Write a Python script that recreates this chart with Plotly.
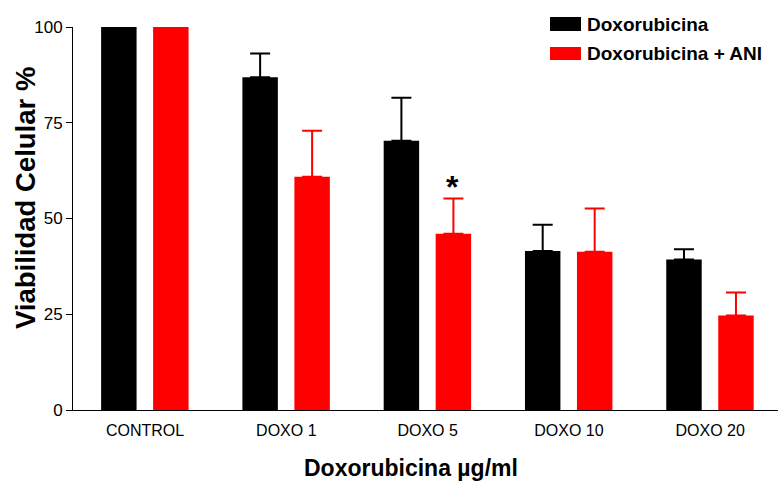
import plotly.graph_objects as go

categories = ["CONTROL", "DOXO 1", "DOXO 5", "DOXO 10", "DOXO 20"]
doxo_values = [100, 86.9, 70.3, 41.5, 39.3]
doxo_errors = [0, 6.2, 11.2, 6.9, 2.7]
doxo_ani_values = [100, 60.9, 46.0, 41.3, 24.7]
doxo_ani_errors = [0, 12.0, 9.2, 11.3, 6.0]
y_ticks = [0, 25, 50, 75, 100]
series_names = ["Doxorubicina", "Doxorubicina + ANI"]
series_colors = ["#000000", "#FF0000"]

fig = go.Figure()
fig.add_trace(go.Bar(
    x=categories, y=doxo_values, name=series_names[0],
    marker=dict(color=series_colors[0], line=dict(width=0)),
    width=0.251, offset=-0.311,
    error_y=dict(type="data", array=doxo_errors, arrayminus=[0]*5, symmetric=False,
                 color=series_colors[0], thickness=2, width=10),
    showlegend=False,
))
fig.add_trace(go.Bar(
    x=categories, y=doxo_ani_values, name=series_names[1],
    marker=dict(color=series_colors[1], line=dict(width=0)),
    width=0.251, offset=0.057,
    error_y=dict(type="data", array=doxo_ani_errors, arrayminus=[0]*5, symmetric=False,
                 color=series_colors[1], thickness=2, width=10),
    showlegend=False,
))

font_tick = "Liberation Sans, Arial, sans-serif"

fig.update_layout(
    width=778, height=484,
    margin=dict(l=73, r=0, t=27, b=74),
    paper_bgcolor="white", plot_bgcolor="white",
    barmode="overlay",
    xaxis=dict(
        range=[-0.51, 4.48], showline=True, linecolor="black", linewidth=1,
        ticks="", showgrid=False, zeroline=False,
        tickfont=dict(family=font_tick, size=16, color="black"),
        ticklabelstandoff=6,
    ),
    yaxis=dict(
        range=[0, 100], tickvals=y_ticks, showline=True, linecolor="black", linewidth=1,
        ticks="outside", ticklen=6, tickcolor="black", showgrid=False, zeroline=False,
        tickfont=dict(family=font_tick, size=17, color="black"),
    ),
    showlegend=False,
)

def px_to_paper_x(px):
    return (px - 73) / 705

def px_to_paper_y(py):
    return (410 - py) / 383

# legend drawn with shapes + annotations
legend_rows = [(17, 31), (47, 60)]
for (ytop, ybot), name, color in zip(legend_rows, series_names, series_colors):
    fig.add_shape(type="rect", xref="paper", yref="paper",
                  x0=px_to_paper_x(550), x1=px_to_paper_x(581),
                  y0=px_to_paper_y(ybot), y1=px_to_paper_y(ytop),
                  fillcolor=color, line=dict(width=0))
    fig.add_annotation(xref="paper", yref="paper",
                       x=px_to_paper_x(585), y=px_to_paper_y((ytop + ybot) / 2),
                       text="<b>" + name + "</b>", showarrow=False,
                       xanchor="left", yanchor="middle",
                       font=dict(family=font_tick, size=19, color="black"))

# axis titles
fig.add_annotation(xref="paper", yref="paper",
                   x=px_to_paper_x(411), y=px_to_paper_y(468),
                   text="<b>Doxorubicina µg/ml</b>", showarrow=False,
                   xanchor="center", yanchor="middle",
                   font=dict(family=font_tick, size=23, color="black"))
fig.add_annotation(xref="paper", yref="paper",
                   x=px_to_paper_x(25), y=px_to_paper_y(198),
                   text="<b>Viabilidad Celular %</b>", showarrow=False, textangle=-90,
                   xanchor="center", yanchor="middle",
                   font=dict(family=font_tick, size=27.5, color="black"))

# significance marker
fig.add_annotation(x="DOXO 5", y=doxo_ani_values[2] + doxo_ani_errors[2], xshift=25, yshift=12,
                   text="<b>*</b>", showarrow=False, xanchor="center", yanchor="middle",
                   font=dict(family=font_tick, size=32, color="black"))

fig.write_html("out.html",
               config={"displayModeBar": False},
               post_script="document.body.style.margin='0';document.body.style.overflow='hidden';")
